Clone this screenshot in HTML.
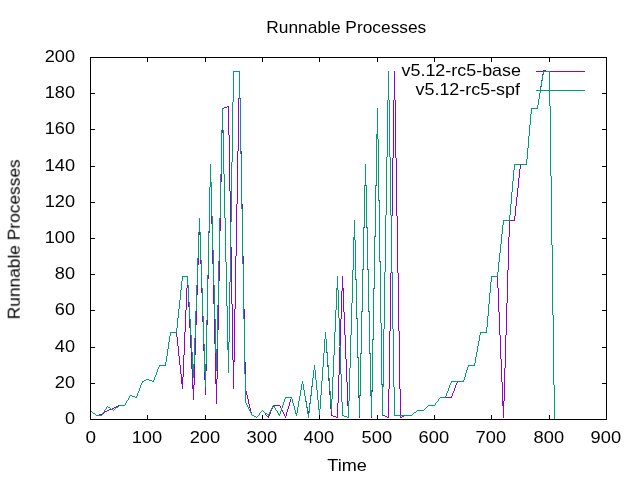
<!DOCTYPE html><html><head><meta charset="utf-8"><title>Runnable Processes</title>
<style>html,body{margin:0;padding:0;background:#fff}svg{display:block}text{font-family:"Liberation Sans",sans-serif;fill:#000}</style></head><body>
<svg width="640" height="480" viewBox="0 0 640 480">
<rect width="640" height="480" fill="#fff"/>
<g shape-rendering="crispEdges" stroke="none">
<path fill="#9400d3" d="M125 403h1v2h-1zM126 401h1v2h-1zM128 398h1v2h-1zM129 396h1v2h-1zM136 396h1v2h-1zM137 393h1v3h-1zM138 391h1v2h-1zM139 388h1v3h-1zM140 385h1v3h-1zM141 383h1v2h-1zM142 381h1v2h-1zM153 380h1v2h-1zM154 377h1v3h-1zM155 375h1v2h-1zM156 372h1v3h-1zM157 369h1v3h-1zM158 367h1v2h-1zM159 365h1v2h-1zM165 362h1v4h-1zM166 356h1v6h-1zM167 349h1v7h-1zM168 342h1v7h-1zM169 336h1v6h-1zM170 332h1v4h-1zM176 332h1v5h-1zM177 337h1v9h-1zM178 346h1v10h-1zM179 356h1v9h-1zM180 365h1v9h-1zM181 374h1v10h-1zM182 377h1v12h-1zM183 355h1v22h-1zM184 332h1v23h-1zM185 310h1v22h-1zM186 288h1v22h-1zM187 276h1v12h-1zM188 287h1v20h-1zM189 307h1v21h-1zM190 328h1v20h-1zM191 348h1v21h-1zM192 369h1v20h-1zM193 385h1v15h-1zM194 355h1v30h-1zM195 325h1v30h-1zM196 295h1v30h-1zM197 265h1v30h-1zM198 235h1v30h-1zM199 220h1v15h-1zM200 235h1v29h-1zM201 264h1v29h-1zM202 293h1v29h-1zM203 322h1v29h-1zM204 351h1v29h-1zM205 371h1v24h-1zM206 325h1v46h-1zM207 279h1v46h-1zM208 233h1v46h-1zM209 187h1v46h-1zM210 164h1v23h-1zM211 184h1v40h-1zM212 224h1v40h-1zM213 264h1v40h-1zM214 304h1v40h-1zM215 344h1v40h-1zM216 379h1v25h-1zM217 330h1v49h-1zM218 281h1v49h-1zM219 231h1v50h-1zM220 182h1v49h-1zM221 133h1v49h-1zM222 108h1v25h-1zM228 106h1v29h-1zM229 135h1v56h-1zM230 191h1v56h-1zM231 247h1v57h-1zM232 304h1v56h-1zM233 360h1v29h-1zM234 309h1v53h-1zM235 256h1v53h-1zM236 204h1v52h-1zM237 151h1v53h-1zM238 98h1v53h-1zM239 71h1v27h-1zM240 98h1v53h-1zM241 151h1v53h-1zM242 204h1v52h-1zM243 256h1v53h-1zM244 309h1v53h-1zM245 362h1v29h-1zM246 391h1v4h-1zM247 395h1v4h-1zM248 399h1v5h-1zM249 404h1v4h-1zM250 408h1v4h-1zM251 412h1v3h-1zM259 413h1v2h-1zM265 413h1v2h-1zM268 416h1v2h-1zM269 414h1v2h-1zM270 411h1v3h-1zM271 409h1v2h-1zM272 407h1v2h-1zM273 405h1v2h-1zM280 406h1v2h-1zM281 408h1v2h-1zM282 410h1v2h-1zM283 412h1v2h-1zM284 414h1v2h-1zM285 416h1v2h-1zM286 412h1v4h-1zM287 409h1v3h-1zM288 406h1v3h-1zM289 402h1v4h-1zM290 399h1v3h-1zM291 397h1v2h-1zM292 399h1v4h-1zM293 403h1v3h-1zM294 406h1v4h-1zM295 410h1v4h-1zM296 413h1v3h-1zM297 407h1v6h-1zM298 401h1v6h-1zM299 396h1v5h-1zM300 390h1v6h-1zM301 384h1v6h-1zM302 381h1v3h-1zM303 384h1v6h-1zM304 390h1v6h-1zM305 396h1v5h-1zM306 401h1v6h-1zM307 407h1v6h-1zM308 411h1v5h-1zM309 403h1v8h-1zM310 395h1v8h-1zM311 386h1v9h-1zM312 378h1v8h-1zM313 370h1v8h-1zM314 365h1v5h-1zM315 370h1v10h-1zM316 380h1v10h-1zM317 390h1v10h-1zM318 400h1v10h-1zM319 409h1v7h-1zM320 395h1v14h-1zM321 381h1v14h-1zM322 367h1v14h-1zM323 353h1v14h-1zM324 339h1v14h-1zM325 332h1v7h-1zM326 339h1v14h-1zM327 353h1v14h-1zM328 367h1v14h-1zM329 381h1v14h-1zM330 395h1v14h-1zM331 409h1v7h-1zM337 403h1v15h-1zM338 375h1v28h-1zM339 347h1v28h-1zM340 319h1v28h-1zM341 291h1v28h-1zM342 276h1v15h-1zM343 288h1v24h-1zM344 312h1v23h-1zM345 335h1v24h-1zM346 359h1v23h-1zM347 382h1v24h-1zM348 401h1v17h-1zM349 368h1v33h-1zM350 335h1v33h-1zM351 303h1v32h-1zM352 270h1v33h-1zM353 237h1v33h-1zM354 220h1v20h-1zM355 240h1v40h-1zM356 280h1v39h-1zM357 319h1v39h-1zM358 358h1v40h-1zM359 396h1v22h-1zM360 354h1v42h-1zM361 312h1v42h-1zM362 270h1v42h-1zM363 228h1v42h-1zM364 186h1v42h-1zM365 164h1v22h-1zM366 186h1v42h-1zM367 228h1v42h-1zM368 270h1v42h-1zM369 312h1v42h-1zM370 354h1v42h-1zM371 392h1v26h-1zM372 340h1v52h-1zM373 289h1v51h-1zM374 237h1v52h-1zM375 186h1v51h-1zM376 134h1v52h-1zM377 108h1v31h-1zM378 139h1v61h-1zM379 200h1v61h-1zM380 261h1v62h-1zM381 323h1v61h-1zM382 384h1v31h-1zM388 389h1v29h-1zM389 331h1v58h-1zM390 273h1v58h-1zM391 216h1v57h-1zM392 158h1v58h-1zM393 100h1v58h-1zM394 71h1v29h-1zM395 100h1v58h-1zM396 158h1v58h-1zM397 216h1v57h-1zM398 273h1v58h-1zM399 331h1v58h-1zM400 389h1v29h-1zM435 403h1v2h-1zM438 399h1v2h-1zM451 396h1v2h-1zM452 393h1v3h-1zM453 391h1v2h-1zM454 388h1v3h-1zM455 385h1v3h-1zM456 383h1v2h-1zM457 381h1v2h-1zM463 380h1v2h-1zM464 377h1v3h-1zM465 373h1v4h-1zM466 370h1v3h-1zM467 367h1v3h-1zM468 365h1v2h-1zM474 363h1v3h-1zM475 357h1v6h-1zM476 352h1v5h-1zM477 346h1v6h-1zM478 341h1v5h-1zM479 335h1v6h-1zM480 332h1v3h-1zM486 327h1v6h-1zM487 316h1v11h-1zM488 304h1v12h-1zM489 293h1v11h-1zM490 282h1v11h-1zM491 276h1v6h-1zM497 276h1v12h-1zM498 288h1v24h-1zM499 312h1v23h-1zM500 335h1v24h-1zM501 359h1v23h-1zM502 382h1v24h-1zM503 401h1v17h-1zM504 368h1v33h-1zM505 335h1v33h-1zM506 303h1v32h-1zM507 270h1v33h-1zM508 237h1v33h-1zM509 220h1v17h-1zM514 216h1v5h-1zM515 206h1v10h-1zM516 197h1v9h-1zM517 188h1v9h-1zM518 178h1v10h-1zM519 169h1v9h-1zM520 164h1v5h-1zM526 159h1v6h-1zM527 148h1v11h-1zM528 136h1v12h-1zM529 125h1v11h-1zM530 114h1v11h-1zM531 108h1v6h-1zM537 105h1v4h-1zM538 99h1v6h-1zM539 93h1v6h-1zM540 86h1v7h-1zM541 80h1v6h-1zM542 74h1v6h-1zM543 70h1v4h-1zM544 70h1v2h-1zM545 70h1v2h-1zM536 71h7v1h-7zM546 71h39v1h-39zM227 106h1v1h-1zM224 107h3v1h-3zM223 108h1v1h-1zM532 108h5v1h-5zM521 164h5v1h-5zM510 220h4v1h-4zM492 276h5v1h-5zM171 332h5v1h-5zM481 332h5v1h-5zM160 365h5v1h-5zM469 365h5v1h-5zM146 379h3v1h-3zM144 380h2v1h-2zM149 380h3v1h-3zM143 381h1v1h-1zM152 381h1v1h-1zM458 381h5v1h-5zM130 395h2v1h-2zM132 396h3v1h-3zM135 397h1v1h-1zM440 397h11v1h-11zM439 398h1v1h-1zM127 400h1v1h-1zM437 401h1v1h-1zM436 402h1v1h-1zM118 405h7v1h-7zM274 405h6v1h-6zM428 405h7v1h-7zM116 406h2v1h-2zM427 406h1v1h-1zM114 407h2v1h-2zM426 407h1v1h-1zM112 408h2v1h-2zM425 408h1v1h-1zM109 409h3v1h-3zM424 409h1v1h-1zM90 410h1v1h-1zM107 410h2v1h-2zM262 410h1v1h-1zM417 410h7v1h-7zM91 411h1v1h-1zM105 411h2v1h-2zM261 411h1v1h-1zM263 411h1v1h-1zM416 411h1v1h-1zM92 412h1v1h-1zM104 412h1v1h-1zM260 412h1v1h-1zM264 412h1v1h-1zM414 412h2v1h-2zM93 413h2v1h-2zM102 413h2v1h-2zM413 413h1v1h-1zM95 414h1v1h-1zM99 414h3v1h-3zM412 414h1v1h-1zM96 415h3v1h-3zM252 415h2v1h-2zM258 415h1v1h-1zM266 415h1v1h-1zM332 415h1v1h-1zM383 415h2v1h-2zM404 415h8v1h-8zM254 416h2v1h-2zM257 416h1v1h-1zM267 416h1v1h-1zM333 416h3v1h-3zM385 416h2v1h-2zM402 416h2v1h-2zM256 417h1v1h-1zM336 417h1v1h-1zM387 417h1v1h-1zM401 417h1v1h-1z"/>
<path fill="#009e73" d="M102 413h1v2h-1zM104 410h1v2h-1zM106 407h1v2h-1zM125 403h1v2h-1zM126 401h1v2h-1zM128 398h1v2h-1zM129 396h1v2h-1zM136 396h1v2h-1zM137 393h1v3h-1zM138 391h1v2h-1zM139 388h1v3h-1zM140 385h1v3h-1zM141 383h1v2h-1zM142 381h1v2h-1zM153 380h1v2h-1zM154 377h1v3h-1zM155 375h1v2h-1zM156 372h1v3h-1zM157 369h1v3h-1zM158 367h1v2h-1zM159 365h1v2h-1zM165 362h1v4h-1zM166 356h1v6h-1zM167 349h1v7h-1zM168 342h1v7h-1zM169 336h1v6h-1zM170 332h1v4h-1zM176 328h1v5h-1zM177 318h1v10h-1zM178 309h1v9h-1zM179 300h1v9h-1zM180 290h1v10h-1zM181 281h1v9h-1zM182 276h1v5h-1zM187 276h1v9h-1zM188 285h1v17h-1zM189 302h1v17h-1zM190 319h1v16h-1zM191 335h1v17h-1zM192 352h1v17h-1zM193 364h1v14h-1zM194 338h1v26h-1zM195 311h1v27h-1zM196 285h1v26h-1zM197 258h1v27h-1zM198 232h1v26h-1zM199 218h1v14h-1zM200 232h1v28h-1zM201 260h1v28h-1zM202 288h1v28h-1zM203 316h1v28h-1zM204 344h1v28h-1zM205 364h1v23h-1zM206 320h1v44h-1zM207 275h1v45h-1zM208 231h1v44h-1zM209 187h1v44h-1zM210 164h1v23h-1zM211 182h1v34h-1zM212 216h1v34h-1zM213 250h1v35h-1zM214 285h1v34h-1zM215 319h1v34h-1zM216 349h1v22h-1zM217 305h1v44h-1zM218 261h1v44h-1zM219 218h1v43h-1zM220 174h1v44h-1zM221 130h1v44h-1zM222 108h1v22h-1zM223 130h1v44h-1zM224 174h1v44h-1zM225 218h1v44h-1zM226 262h1v44h-1zM227 306h1v44h-1zM228 342h1v31h-1zM229 282h1v60h-1zM230 222h1v60h-1zM231 162h1v60h-1zM232 102h1v60h-1zM233 71h1v31h-1zM239 71h1v28h-1zM240 99h1v55h-1zM241 154h1v55h-1zM242 209h1v55h-1zM243 264h1v55h-1zM244 319h1v55h-1zM245 374h1v29h-1zM246 403h1v2h-1zM247 405h1v2h-1zM248 407h1v2h-1zM249 409h1v2h-1zM250 411h1v2h-1zM251 413h1v2h-1zM259 413h1v2h-1zM268 414h1v2h-1zM269 412h1v2h-1zM270 410h1v2h-1zM271 408h1v2h-1zM272 406h1v2h-1zM274 406h1v2h-1zM275 408h1v2h-1zM277 411h1v2h-1zM278 413h1v2h-1zM279 414h1v2h-1zM280 411h1v3h-1zM281 408h1v3h-1zM282 405h1v3h-1zM283 402h1v3h-1zM284 399h1v3h-1zM285 397h1v2h-1zM291 397h1v2h-1zM292 399h1v4h-1zM293 403h1v3h-1zM294 406h1v4h-1zM295 410h1v4h-1zM296 413h1v3h-1zM297 407h1v6h-1zM298 401h1v6h-1zM299 396h1v5h-1zM300 390h1v6h-1zM301 384h1v6h-1zM302 381h1v3h-1zM303 384h1v6h-1zM304 390h1v6h-1zM305 396h1v6h-1zM306 402h1v6h-1zM307 408h1v6h-1zM308 413h1v5h-1zM309 404h1v9h-1zM310 396h1v8h-1zM311 387h1v9h-1zM312 378h1v9h-1zM313 370h1v8h-1zM314 365h1v5h-1zM315 370h1v10h-1zM316 380h1v10h-1zM317 390h1v10h-1zM318 400h1v10h-1zM319 409h1v7h-1zM320 395h1v14h-1zM321 381h1v14h-1zM322 367h1v14h-1zM323 353h1v14h-1zM324 339h1v14h-1zM325 332h1v7h-1zM326 339h1v13h-1zM327 352h1v13h-1zM328 365h1v13h-1zM329 378h1v13h-1zM330 391h1v13h-1zM331 399h1v12h-1zM332 377h1v22h-1zM333 355h1v22h-1zM334 332h1v23h-1zM335 310h1v22h-1zM336 288h1v22h-1zM337 276h1v14h-1zM338 290h1v28h-1zM339 318h1v28h-1zM340 346h1v28h-1zM341 374h1v28h-1zM342 402h1v14h-1zM348 401h1v17h-1zM349 368h1v33h-1zM350 335h1v33h-1zM351 303h1v32h-1zM352 270h1v33h-1zM353 237h1v33h-1zM354 220h1v20h-1zM355 240h1v39h-1zM356 279h1v39h-1zM357 318h1v39h-1zM358 357h1v39h-1zM359 395h1v21h-1zM360 353h1v42h-1zM361 311h1v42h-1zM362 269h1v42h-1zM363 227h1v42h-1zM364 185h1v42h-1zM365 164h1v21h-1zM366 185h1v42h-1zM367 227h1v42h-1zM368 269h1v42h-1zM369 311h1v42h-1zM370 353h1v42h-1zM371 390h1v26h-1zM372 339h1v51h-1zM373 288h1v51h-1zM374 236h1v52h-1zM375 185h1v51h-1zM376 134h1v51h-1zM377 108h1v31h-1zM378 139h1v62h-1zM379 201h1v61h-1zM380 262h1v61h-1zM381 323h1v62h-1zM382 385h1v31h-1zM383 329h1v58h-1zM384 272h1v57h-1zM385 215h1v57h-1zM386 157h1v58h-1zM387 100h1v57h-1zM388 71h1v29h-1zM389 100h1v57h-1zM390 157h1v58h-1zM391 215h1v57h-1zM392 272h1v57h-1zM393 329h1v58h-1zM394 387h1v29h-1zM435 403h1v2h-1zM438 399h1v2h-1zM445 396h1v2h-1zM446 393h1v3h-1zM447 391h1v2h-1zM448 388h1v3h-1zM449 385h1v3h-1zM450 383h1v2h-1zM451 381h1v2h-1zM463 380h1v2h-1zM464 377h1v3h-1zM465 373h1v4h-1zM466 370h1v3h-1zM467 367h1v3h-1zM468 365h1v2h-1zM474 363h1v3h-1zM475 357h1v6h-1zM476 352h1v5h-1zM477 346h1v6h-1zM478 341h1v5h-1zM479 335h1v6h-1zM480 332h1v3h-1zM486 327h1v6h-1zM487 316h1v11h-1zM488 304h1v12h-1zM489 293h1v11h-1zM490 282h1v11h-1zM491 276h1v6h-1zM497 272h1v5h-1zM498 262h1v10h-1zM499 253h1v9h-1zM500 244h1v9h-1zM501 234h1v10h-1zM502 225h1v9h-1zM503 220h1v5h-1zM509 215h1v6h-1zM510 204h1v11h-1zM511 192h1v12h-1zM512 181h1v11h-1zM513 170h1v11h-1zM514 164h1v6h-1zM526 159h1v6h-1zM527 148h1v11h-1zM528 136h1v12h-1zM529 125h1v11h-1zM530 114h1v11h-1zM531 108h1v6h-1zM537 105h1v4h-1zM538 99h1v6h-1zM539 93h1v6h-1zM540 87h1v6h-1zM541 81h1v6h-1zM542 75h1v6h-1zM543 71h1v4h-1zM549 71h1v35h-1zM550 106h1v70h-1zM551 176h1v69h-1zM552 245h1v70h-1zM553 315h1v70h-1zM554 385h1v35h-1zM234 71h5v1h-5zM544 71h5v1h-5zM536 90h4v1h-4zM541 90h8v1h-8zM550 90h35v1h-35zM532 108h5v1h-5zM515 164h11v1h-11zM504 220h5v1h-5zM183 276h4v1h-4zM492 276h5v1h-5zM171 332h5v1h-5zM481 332h5v1h-5zM160 365h5v1h-5zM469 365h5v1h-5zM146 379h3v1h-3zM144 380h2v1h-2zM149 380h3v1h-3zM143 381h1v1h-1zM152 381h1v1h-1zM452 381h11v1h-11zM130 395h2v1h-2zM132 396h3v1h-3zM135 397h1v1h-1zM286 397h5v1h-5zM440 397h5v1h-5zM439 398h1v1h-1zM127 400h1v1h-1zM437 401h1v1h-1zM436 402h1v1h-1zM119 405h6v1h-6zM273 405h1v1h-1zM428 405h7v1h-7zM107 406h1v1h-1zM118 406h1v1h-1zM427 406h1v1h-1zM108 407h2v1h-2zM116 407h2v1h-2zM426 407h1v1h-1zM110 408h1v1h-1zM115 408h1v1h-1zM425 408h1v1h-1zM105 409h1v1h-1zM111 409h2v1h-2zM114 409h1v1h-1zM424 409h1v1h-1zM90 410h1v1h-1zM113 410h1v1h-1zM262 410h1v1h-1zM276 410h1v1h-1zM417 410h7v1h-7zM91 411h1v1h-1zM261 411h1v1h-1zM263 411h1v1h-1zM416 411h1v1h-1zM92 412h1v1h-1zM103 412h1v1h-1zM260 412h1v1h-1zM264 412h1v1h-1zM414 412h2v1h-2zM93 413h2v1h-2zM265 413h2v1h-2zM413 413h1v1h-1zM95 414h1v1h-1zM267 414h1v1h-1zM412 414h1v1h-1zM96 415h6v1h-6zM252 415h2v1h-2zM258 415h1v1h-1zM343 415h1v1h-1zM395 415h17v1h-17zM254 416h2v1h-2zM257 416h1v1h-1zM344 416h3v1h-3zM256 417h1v1h-1zM347 417h1v1h-1z"/>
<path fill="#000" d="M90 57h517v1h-517zM90 419h517v1h-517zM90 57h1v363h-1zM606 57h1v363h-1zM90 419h5v1h-5zM602 419h5v1h-5zM90 383h5v1h-5zM602 383h5v1h-5zM90 347h5v1h-5zM602 347h5v1h-5zM90 310h5v1h-5zM602 310h5v1h-5zM90 274h5v1h-5zM602 274h5v1h-5zM90 238h5v1h-5zM602 238h5v1h-5zM90 202h5v1h-5zM602 202h5v1h-5zM90 166h5v1h-5zM602 166h5v1h-5zM90 129h5v1h-5zM602 129h5v1h-5zM90 93h5v1h-5zM602 93h5v1h-5zM90 57h5v1h-5zM602 57h5v1h-5zM90 415h1v5h-1zM90 57h1v5h-1zM147 415h1v5h-1zM147 57h1v5h-1zM205 415h1v5h-1zM205 57h1v5h-1zM262 415h1v5h-1zM262 57h1v5h-1zM319 415h1v5h-1zM319 57h1v5h-1zM377 415h1v5h-1zM377 57h1v5h-1zM434 415h1v5h-1zM434 57h1v5h-1zM491 415h1v5h-1zM491 57h1v5h-1zM549 415h1v5h-1zM549 57h1v5h-1zM606 415h1v5h-1zM606 57h1v5h-1z"/>
</g>
<g font-size="17" style="opacity:0.999">
<text x="64.90" y="424.00" textLength="10.10" lengthAdjust="spacingAndGlyphs">0</text>
<text x="54.80" y="388.00" textLength="20.20" lengthAdjust="spacingAndGlyphs">20</text>
<text x="54.80" y="352.00" textLength="20.20" lengthAdjust="spacingAndGlyphs">40</text>
<text x="54.80" y="315.00" textLength="20.20" lengthAdjust="spacingAndGlyphs">60</text>
<text x="54.80" y="279.00" textLength="20.20" lengthAdjust="spacingAndGlyphs">80</text>
<text x="44.70" y="243.00" textLength="30.30" lengthAdjust="spacingAndGlyphs">100</text>
<text x="44.70" y="207.00" textLength="30.30" lengthAdjust="spacingAndGlyphs">120</text>
<text x="44.70" y="171.00" textLength="30.30" lengthAdjust="spacingAndGlyphs">140</text>
<text x="44.70" y="134.00" textLength="30.30" lengthAdjust="spacingAndGlyphs">160</text>
<text x="44.70" y="98.00" textLength="30.30" lengthAdjust="spacingAndGlyphs">180</text>
<text x="44.70" y="62.00" textLength="30.30" lengthAdjust="spacingAndGlyphs">200</text>
<text x="85.52" y="443.2" textLength="10.57" lengthAdjust="spacingAndGlyphs">0</text>
<text x="131.65" y="443.2" textLength="30.51" lengthAdjust="spacingAndGlyphs">100</text>
<text x="189.65" y="443.2" textLength="30.51" lengthAdjust="spacingAndGlyphs">200</text>
<text x="246.64" y="443.2" textLength="30.51" lengthAdjust="spacingAndGlyphs">300</text>
<text x="303.64" y="443.2" textLength="30.51" lengthAdjust="spacingAndGlyphs">400</text>
<text x="361.64" y="443.2" textLength="30.51" lengthAdjust="spacingAndGlyphs">500</text>
<text x="418.64" y="443.2" textLength="30.51" lengthAdjust="spacingAndGlyphs">600</text>
<text x="475.64" y="443.2" textLength="30.51" lengthAdjust="spacingAndGlyphs">700</text>
<text x="533.64" y="443.2" textLength="30.51" lengthAdjust="spacingAndGlyphs">800</text>
<text x="590.64" y="443.2" textLength="30.51" lengthAdjust="spacingAndGlyphs">900</text>
<text x="266.3" y="32.6" textLength="160" lengthAdjust="spacingAndGlyphs">Runnable Processes</text>
<text x="327.3" y="470.6" textLength="39.5" lengthAdjust="spacingAndGlyphs">Time</text>
<text transform="translate(19.7,319.3) rotate(-90)" x="0" y="0" textLength="160" lengthAdjust="spacingAndGlyphs">Runnable Processes</text>
<text x="401.5" y="75.8" textLength="119.5" lengthAdjust="spacingAndGlyphs">v5.12-rc5-base</text>
<text x="415.5" y="94.8" textLength="104.5" lengthAdjust="spacingAndGlyphs">v5.12-rc5-spf</text>
</g>
</svg></body></html>
